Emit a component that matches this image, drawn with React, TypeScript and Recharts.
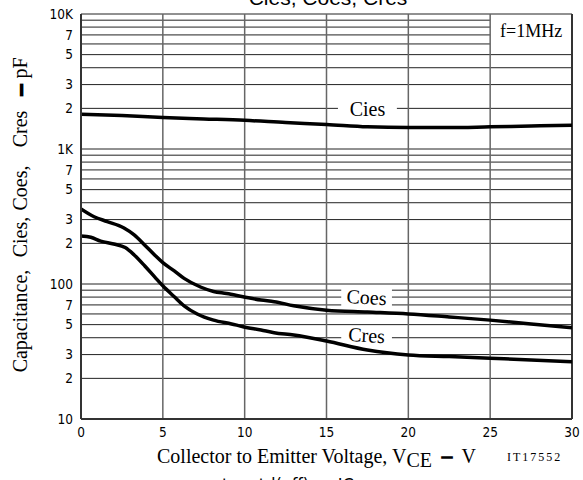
import React from 'react';
import { LineChart, Line, XAxis, YAxis, ReferenceLine, ReferenceArea } from 'recharts';

// ---- data ----
const xTicks = [0, 5, 10, 15, 20, 25, 30];
const yGridValues = [
  10, 20, 30, 40, 50, 60, 70, 80, 90,
  100, 200, 300, 400, 500, 600, 700, 800, 900,
  1000, 2000, 3000, 4000, 5000, 6000, 7000, 8000, 9000, 10000,
];
const yLabelValues = [10, 20, 30, 50, 70, 100, 200, 300, 500, 700, 1000, 2000, 3000, 5000, 7000, 10000];
const yLabelTexts = ['10', '2', '3', '5', '7', '100', '2', '3', '5', '7', '1K', '2', '3', '5', '7', '10K'];

const ciesV = [0, 2.5, 5, 7.5, 10, 12.5, 15, 17.5, 20, 22.5, 25, 27.5, 30];
const ciesC = [1810, 1770, 1710, 1670, 1630, 1570, 1520, 1460, 1440, 1440, 1460, 1480, 1500];

const coesV = [0, 0.8, 1.6, 2.6, 3.25, 3.9, 4.5, 5, 5.7, 6.3, 7.3, 8.1, 8.9, 9.9, 11, 11.8, 13, 15, 17.5, 20, 22.5, 25, 27.5, 30];
const coesC = [360, 315, 290, 261, 231, 194, 164, 144, 125, 110, 95, 88, 85, 80.5, 76, 74, 69, 64, 62, 60, 57, 54, 50.6, 47.5];

const cresV = [0, 0.6, 1.2, 2, 2.7, 3.25, 3.9, 4.5, 5, 5.7, 6.3, 7.1, 8.1, 9.2, 9.9, 11, 11.8, 13, 15, 17.5, 20, 22.5, 25, 27.5, 30];
const cresC = [227, 222, 208, 198, 186, 164, 136, 113, 97, 80.5, 69, 60, 54, 50.6, 48.3, 45.6, 43.6, 41.9, 37.8, 32.4, 29.8, 29, 28.2, 27.4, 26.6];

// label boxes (data coordinates)
const boxNames = ['Cies', 'Coes', 'Cres', 'f=1MHz'];
const boxX1 = [15.7, 15.9, 15.9, 25];
const boxX2 = [19.3, 19.0, 19.0, 30];
const boxY1 = [1730, 68.7, 35.9, 5600];
const boxY2 = [2270, 93.7, 48.9, 10000];
const boxAngle = [0, 3, 3, 0];
const boxFont = [20, 20, 20, 18];

// y-axis title words and their centres (px along the rotated label)
const yTitleWords = ['pF', '\u2013', 'Cres', 'Coes,', 'Cies,', 'Capacitance,'];
const yTitleCentres = [68, 90, 129, 188, 237, 321];

const toPoints = (xs: number[], ys: number[]) => xs.map((v, i) => ({ v, c: ys[i] }));

const SERIF = "'Liberation Serif', 'Times New Roman', serif";
const SANS = "'DejaVu Sans Condensed', 'DejaVu Sans', sans-serif";

function gridSegments(val: number) {
  const cuts: [number, number][] = [];
  for (let i = 0; i < boxNames.length; i++) {
    if (val > boxY1[i] && val < boxY2[i]) cuts.push([boxX1[i], boxX2[i]]);
  }
  cuts.sort((a, b) => a[0] - b[0]);
  const segs: [number, number][] = [];
  let start = 0;
  for (const [a, b] of cuts) {
    if (a > start) segs.push([start, a]);
    start = b;
  }
  if (start < 30) segs.push([start, 30]);
  return segs;
}

const YTick = (props: any) => {
  const { x, y, payload } = props;
  const idx = yLabelValues.indexOf(payload.value);
  if (idx < 0) return null;
  return (
    <text x={x} y={y} dy="0.36em" textAnchor="end" fontFamily={SANS} fontSize={13.5} style={{ fontStretch: 'condensed' }} fill="#000">
      {yLabelTexts[idx]}
    </text>
  );
};

const XTick = (props: any) => {
  const { x, y, payload } = props;
  return (
    <text x={x} y={y} dy="0.71em" textAnchor="middle" fontFamily={SANS} fontSize={13.5} style={{ fontStretch: 'condensed' }} fill="#000">
      {payload.value}
    </text>
  );
};

export default function App() {
  const W = 583;
  const H = 480;
  return (
    <div style={{ position: 'absolute', left: 0, top: 0, width: W, height: H, background: '#fff', overflow: 'hidden' }}>
      <LineChart width={W} height={H} margin={{ top: 14, right: 11, bottom: 31, left: 0 }}>
        <XAxis
          type="number"
          dataKey="v"
          domain={[0, 30]}
          ticks={xTicks}
          interval={0}
          allowDataOverflow
          height={30}
          tickLine={false}
          tick={<XTick />}
          axisLine={{ stroke: '#333', strokeWidth: 2 }}
        />
        <YAxis
          type="number"
          dataKey="c"
          scale="log"
          domain={[10, 10000]}
          ticks={yGridValues}
          interval={0}
          allowDataOverflow
          width={81}
          tickLine={false}
          tick={<YTick />}
          axisLine={{ stroke: '#333', strokeWidth: 2 }}
        />
        {boxNames.map((n, i) => (
          <ReferenceArea
            key={'box' + n}
            x1={boxX1[i]}
            x2={boxX2[i]}
            y1={boxY1[i]}
            y2={boxY2[i]}
            fill="#fff"
            fillOpacity={1}
            stroke="none"
            ifOverflow="visible"
            label={{
              value: n,
              position: 'center',
              angle: boxAngle[i],
              fontFamily: SERIF,
              fontSize: boxFont[i],
              fill: '#000',
            }}
          />
        ))}
        {yGridValues.flatMap((val) =>
          gridSegments(val).map(([a, b], j) => (
            <ReferenceLine
              key={'h' + val + '_' + j}
              segment={[{ x: a, y: val }, { x: b, y: val }]}
              stroke="#222"
              strokeWidth={1}
              ifOverflow="visible"
            />
          ))
        )}
        {xTicks.slice(1).map((v) => (
          <ReferenceLine
            key={'v' + v}
            x={v}
            stroke={v === 30 ? '#333' : '#666'}
            strokeWidth={v === 30 ? 2 : 1.5}
            ifOverflow="visible"
          />
        ))}
        <Line data={toPoints(ciesV, ciesC)} dataKey="c" type="monotone" stroke="#000" strokeWidth={3.5} dot={false} isAnimationActive={false} />
        <Line data={toPoints(coesV, coesC)} dataKey="c" type="monotone" stroke="#000" strokeWidth={3.5} dot={false} isAnimationActive={false} />
        <Line data={toPoints(cresV, cresC)} dataKey="c" type="monotone" stroke="#000" strokeWidth={3.5} dot={false} isAnimationActive={false} />
      </LineChart>
      <svg width={W} height={H} style={{ position: 'absolute', left: 0, top: 0, pointerEvents: 'none' }}>
        <text x={328} y={5} textAnchor="middle" fontFamily="'Liberation Sans', Arial, sans-serif" fontSize={21} fill="#000">
          Cies, Coes, Cres
        </text>
        {yTitleWords.map((w, i) => (
          <text
            key={'yt' + i}
            transform={`translate(27,${yTitleCentres[i]}) rotate(-90)`}
            textAnchor="middle"
            fontFamily={SERIF}
            fontSize={20}
            fill="#000"
            stroke={w === '\u2013' ? '#000' : 'none'}
            strokeWidth={w === '\u2013' ? 2.5 : 0}
          >
            {w}
          </text>
        ))}
        <text x={157} y={463} fontFamily={SERIF} fontSize={20} fill="#000" style={{ whiteSpace: 'pre' }}>
          {'Collector to Emitter Voltage, V'}
          <tspan dy={4}>CE</tspan>
          <tspan dy={-4}>{'  '}</tspan>
          <tspan stroke="#000" strokeWidth={1.5}>{'\u2013'}</tspan>
          <tspan>{'  V'}</tspan>
        </text>
        <text x={507} y={461} fontFamily={SERIF} fontSize={12} letterSpacing={2} fill="#000">
          IT17552
        </text>
        <text x={222} y={491} fontFamily={SANS} fontSize={18} fill="#000" style={{ whiteSpace: 'pre' }}>
          {'ton, td(off)  \u2013  IC'}
        </text>
      </svg>
    </div>
  );
}
